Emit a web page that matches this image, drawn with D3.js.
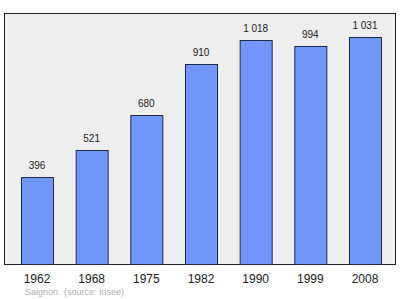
<!DOCTYPE html>
<html>
<head>
    <title>Saignon</title>
    <script src="https://d3js.org/d3.v7.min.js"></script>
    <style>
        body { margin: 0; background: #fff; }
        svg { display: block; font-family: "Liberation Sans", Arial, sans-serif; }
    </style>
</head>
<body>
    <svg id="chart"></svg>
    <script>
        const years = ["1962", "1968", "1975", "1982", "1990", "1999", "2008"];
        const population = [396, 521, 680, 910, 1018, 994, 1031];
        const town = "Saignon";
        const source = "(source: Insee)";

        const width = 400;
        const height = 299;
        const frame = { left: 4.5, top: 13.5, right: 395.5, bottom: 264.5 };

        const svg = d3.select("#chart")
            .attr("width", width)
            .attr("height", height);

        // plot background + border
        svg.append("rect")
            .attr("x", frame.left)
            .attr("y", frame.top)
            .attr("width", frame.right - frame.left)
            .attr("height", frame.bottom - frame.top)
            .attr("fill", "#eeeeee")
            .attr("stroke", "#222")
            .attr("stroke-width", 1);

        const x = d3.scaleBand()
            .domain(years)
            .range([21, 381])
            .paddingInner(0.4146)
            .paddingOuter(0);

        const y = d3.scaleLinear()
            .domain([0, 1140])
            .range([frame.bottom, frame.top]);

        const fmt = v => d3.format(",")(v).replace(/,/g, " ");

        const data = years.map((yr, i) => ({ year: yr, value: population[i] }));

        svg.selectAll(".bar")
            .data(data)
            .enter().append("rect")
            .attr("class", "bar")
            .attr("x", d => x(d.year) + 0.5)
            .attr("y", d => Math.round(y(d.value)) + 0.5)
            .attr("width", x.bandwidth())
            .attr("height", d => frame.bottom - Math.round(y(d.value)) - 0.5)
            .attr("fill", "#6f96f8")
            .attr("stroke", "#1f2a4a")
            .attr("stroke-width", 1);

        svg.selectAll(".val")
            .data(data)
            .enter().append("text")
            .attr("class", "val")
            .attr("x", d => x(d.year) + x.bandwidth() / 2)
            .attr("y", d => y(d.value) - 8)
            .attr("text-anchor", "middle")
            .style("font-size", "10px")
            .style("fill", "#222")
            .text(d => fmt(d.value));

        // year labels, no axis line
        const xAxis = svg.append("g")
            .attr("transform", `translate(0,${frame.bottom})`)
            .call(d3.axisBottom(x).tickSize(0).tickPadding(10));
        xAxis.select(".domain").remove();
        xAxis.selectAll("text")
            .style("font-size", "12px")
            .style("font-family", "Liberation Sans, Arial, sans-serif")
            .style("fill", "#222");

        svg.append("text")
            .attr("x", 25)
            .attr("y", 295)
            .style("font-size", "9px")
            .style("fill", "#b0b0b0")
            .text(town);

        svg.append("text")
            .attr("x", 64)
            .attr("y", 295)
            .style("font-size", "9px")
            .style("fill", "#b0b0b0")
            .text(source);
    </script>
</body>
</html>
